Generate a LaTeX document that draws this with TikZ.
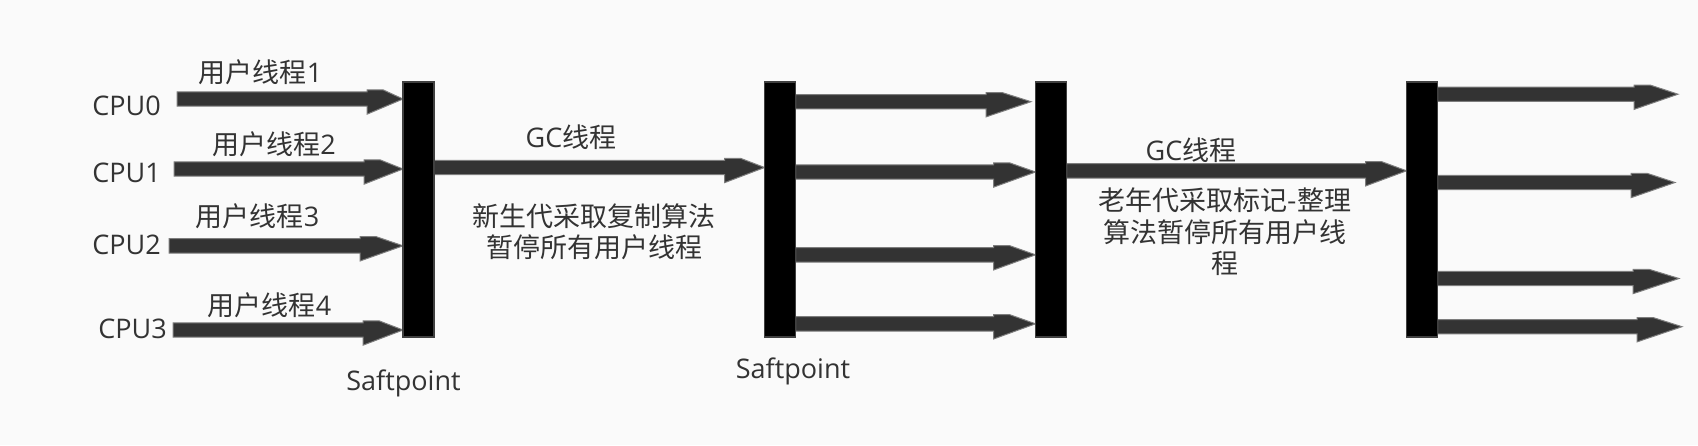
\documentclass[tikz,border=0pt]{standalone}
\usepackage{fontspec}
\setmainfont{Open Sans}
\newfontfamily\cjk{Noto Sans CJK SC}
\usetikzlibrary{calc}
\definecolor{bgc}{RGB}{250,250,250}
\definecolor{ink}{RGB}{51,51,51}
\definecolor{arrowfill}{RGB}{51,51,51}
\definecolor{arrowedge}{RGB}{125,125,125}
\definecolor{baredge}{RGB}{64,64,64}
\def\fatHalf{3.6pt}
\tikzset{
  headlen/.store in=\fatHead, headlen=20pt,
  fatarrow/.style={fill=arrowfill, draw=arrowedge, line width=0.5pt, line join=miter,
    to path={
      ($(\tikztostart)+(0pt,\fatHalf)$) -- ($(\tikztotarget)+(-\fatHead,\fatHalf)$)
      -- ($(\tikztotarget)+(-\fatHead,\fatHalf+1pt)$)
      -- ($(\tikztotarget)+(-\fatHead+8pt,\fatHalf+1pt)$)
      -- (\tikztotarget)
      -- ($(\tikztotarget)+(-\fatHead,-\fatHalf-4pt)$)
      -- ($(\tikztotarget)+(-\fatHead,-\fatHalf)$)
      -- ($(\tikztostart)+(0pt,-\fatHalf)$) -- cycle}},
  barbox/.style={draw=baredge, fill=black, line width=0.75pt, minimum width=15.5pt,
    minimum height=127.5pt, inner sep=0pt, outer sep=0pt},
  lbl/.style={text=ink, inner sep=0pt, anchor=base, font=\fontsize{13.5}{15.8}\selectfont},
  cjkblock/.style={text=ink, inner sep=0pt, anchor=base, align=center,
    font=\cjk\fontsize{13.5}{15.8}\selectfont}
}
\begin{document}
\begin{tikzpicture}[x=0.5pt,y=-0.5pt]
\fill[bgc] (0,0) rectangle (1698,445);
\useasboundingbox (0,0) rectangle (1698,445);

% bars (placed first so arrows can refer to them)
\path (418.5,209.5) node[barbox] (b1) {};
\path (780,209.5) node[barbox] (b2) {};
\path (1051,209.5) node[barbox] (b3) {};
\path (1422,209.5) node[barbox] (b4) {};

% start / end coordinates
\coordinate (c0) at (177,99);
\coordinate (c1) at (174,169);
\coordinate (c2) at (169,245.8);
\coordinate (c3) at (173,330);
\coordinate (g1) at (0,167.5);
\coordinate (m1) at (0,101.7);
\coordinate (e1) at (1031,101.7);
\coordinate (m2) at (0,172);
\coordinate (m3) at (0,254.8);
\coordinate (m4) at (0,323.8);
\coordinate (g2) at (0,170.8);
\coordinate (f1) at (1678,94.2);
\coordinate (f2) at (1675,182.5);
\coordinate (f3) at (1679,278.5);
\coordinate (f4) at (1682,326.7);

\draw[fatarrow, headlen=18pt] (c0) to (b1.west |- c0);
\draw[fatarrow, headlen=19.5pt] (c1) to (b1.west |- c1);
\draw[fatarrow, headlen=21.5pt] (c2) to (b1.west |- c2);
\draw[fatarrow, headlen=20pt] (c3) to (b1.west |- c3);
\draw[fatarrow, headlen=20pt] (b1.east |- g1) to (b2.west |- g1);
\draw[fatarrow, headlen=22.5pt] (b2.east |- m1) to (e1);
\draw[fatarrow, headlen=21pt] (b2.east |- m2) to (b3.west |- m2);
\draw[fatarrow, headlen=21pt] (b2.east |- m3) to (b3.west |- m3);
\draw[fatarrow, headlen=21pt] (b2.east |- m4) to (b3.west |- m4);
\draw[fatarrow, headlen=20.5pt] (b3.east |- g2) to (b4.west |- g2);
\draw[fatarrow, headlen=22pt] (b4.east |- f1) to (f1);
\draw[fatarrow, headlen=22pt] (b4.east |- f2) to (f2);
\draw[fatarrow, headlen=23pt] (b4.east |- f3) to (f3);
\draw[fatarrow, headlen=22.5pt] (b4.east |- f4) to (f4);

% bars drawn on top of arrow ends
\node[barbox] at (b1) {};
\node[barbox] at (b2) {};
\node[barbox] at (b3) {};
\node[barbox] at (b4) {};

% labels
\node[lbl, anchor=base west] (l0) at (92,115) {CPU0};
\node[lbl, anchor=base west] (l1) at (92,182.7) {CPU1};
\node[lbl, anchor=base west] (l2) at (92,254) {CPU2};
\node[lbl, anchor=base west] (l3) at (98,338.3) {CPU3};
\node[lbl] (u1) at (260.5,82) {{\cjk 用户线程}1};
\node[lbl] (u2) at (274,154) {{\cjk 用户线程}2};
\node[lbl] (u3) at (257.5,226) {{\cjk 用户线程}3};
\node[lbl] (u4) at (269.5,315) {{\cjk 用户线程}4};
\node[lbl] (gc1) at (571,147.3) {GC{\cjk 线程}};
\node[lbl] (gc2) at (1191,160) {GC{\cjk 线程}};
\node[cjkblock] (t1) at (594,257.8) {新生代采取复制算法\\暂停所有用户线程};
\node[cjkblock] (t2) at (1225,273.8) {老年代采取标记-整理\\算法暂停所有用户线\\程};
\node[lbl] (s1) at (403.5,390) {Saftpoint};
\node[lbl] (s2) at (793,378.3) {Saftpoint};
\end{tikzpicture}
\end{document}
